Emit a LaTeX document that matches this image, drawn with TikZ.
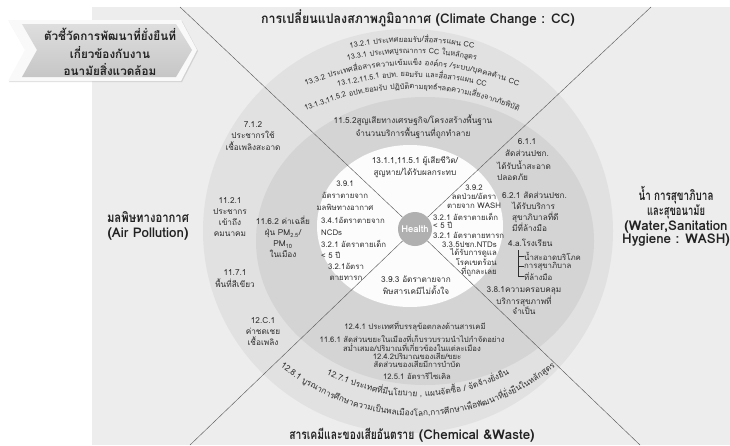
\documentclass[tikz,border=0pt]{standalone}
\usepackage{fontspec}
\newfontfamily\thaif[Script=Thai]{Loma}
\usetikzlibrary{shadows}
\definecolor{bgc}{HTML}{EDEDED}
\definecolor{outerc}{HTML}{E1E1E1}
\definecolor{midc}{HTML}{D4D4D4}
\definecolor{innerc}{HTML}{FCFCFC}
\definecolor{hc}{HTML}{B0B0B0}
\definecolor{txt}{HTML}{2E2E2E}
\definecolor{ttlc}{HTML}{222222}
\definecolor{linec}{HTML}{5E5E5E}
\definecolor{chevtop}{HTML}{DEDEDE}
\definecolor{chevbot}{HTML}{C6C6C6}
\definecolor{chevrim}{HTML}{F9F9F9}

\newcounter{arcn}
\newcommand\measbox[1]{\pgfinterruptpicture\global\setbox1\hbox{#1}\endpgfinterruptpicture}
\newcommand\fitsz[3]{\measbox{\thaif\fontsize{10}{12}\selectfont #3}\pgfmathsetmacro#1{10*#2/\the\wd1}}
% horizontal fit of a piece of node text to a width (px)
\newcommand\fitw[2]{\setbox3\hbox{#2}\pgfmathsetmacro\fws{#1/\the\wd3}\scalebox{\fws}[1]{\box3}}
% #1 cx, #2 cy (pixel), #3 baseline radius, #4 font, #5 dir (1 top, -1 bottom), #6 chunks, #7 arc length
\newcommand\arcline[7]{%
  \gdef\arctw{0}%
  \foreach \c in {#6}{%
    \measbox{#4\c}%
    \pgfmathsetmacro\arctmp{\arctw+\the\wd1}%
    \xdef\arctw{\arctmp}}%
  \pgfmathsetmacro\arcs{#7/\arctw}%
  \pgfmathsetmacro\arcst{90*(#5)+(#5)*(#7/2)/#3*57.29578}%
  \xdef\arccur{\arcst}%
  \foreach \c in {#6}{%
    \measbox{#4\c}%
    \pgfmathsetmacro\archalf{(\arcs*\the\wd1/2)/#3*57.29578}%
    \pgfmathsetmacro\arcmid{\arccur-(#5)*\archalf}%
    \pgfmathsetmacro\arcrot{\arcmid-90*(#5)}%
    \pgfmathsetmacro\arcx{#1+#3*cos(\arcmid)}%
    \pgfmathsetmacro\arcy{-#2+#3*sin(\arcmid)}%
    \stepcounter{arcn}%
    \node[arcchunk,rotate=\arcrot] (ac\arabic{arcn}) at (\arcx,\arcy) {\scalebox{\arcs}[1]{#4\c}};%
    \pgfmathsetmacro\arcnext{\arccur-(#5)*2*\archalf}%
    \xdef\arccur{\arcnext}}%
}

\tikzset{
  arcchunk/.style={inner sep=0pt,anchor=base,text=txt},
  ttl/.style={inner sep=0pt,text=ttlc,align=center,font=\thaif\bfseries\fontsize{\szT}{#1}\selectfont},
  ttl/.default=15,
  lbl/.style={inner sep=0pt,text=txt,align=center,font=\thaif\fontsize{\szL}{#1}\selectfont},
  lbl/.default=11.5,
  lbr/.style={inner sep=0pt,text=txt,align=center,font=\thaif\fontsize{\szR}{#1}\selectfont},
  lbr/.default=9,
  lbc/.style={inner sep=0pt,text=txt,align=center,font=\thaif\fontsize{\szC}{#1}\selectfont},
  lbc/.default=8.5,
  conn/.style={draw=linec,line width=0.45pt},
  brk/.style={draw=txt,line width=0.5pt},
}

\begin{document}
\begin{tikzpicture}[x=1pt,y=1pt]
\fitsz\szA{219}{13.1.3,11.5.2 อปท.ยอมรับ ปฏิบัติตามยุทธ์ฯลดความเสี่ยงจากภัยพิบัติ}
\fitsz\szB{298}{12.8.1 บูรณาการศึกษาความเป็นพลเมืองโลก,การศึกษาเพื่อพัฒนาที่ยั่งยืนในหลักสูตร}
\fitsz\szC{185}{11.6.1 สัดส่วนขยะในเมืองที่เก็บรวบรวมนำไปกำจัดอย่าง}
\fitsz\szL{55}{เชื้อเพลิงสะอาด}
\fitsz\szR{65}{3.2.1 อัตราตายเด็ก}
\fitsz\szT{81}{\bfseries (Air Pollution)}
\fitsz\szV{132}{\bfseries ตัวชี้วัดการพัฒนาที่ยั่งยืนที่}
\def\fA{\thaif\fontsize{\szA}{10}\selectfont}
\def\fB{\thaif\fontsize{\szB}{10}\selectfont}

\useasboundingbox (0,0) rectangle (730,-445);
\clip (0,0) rectangle (730,-445);
\fill[white] (0,0) rectangle (730,-445);
\fill[bgc] (92,-7) rectangle (730,-445);

% rings
\fill[outerc] (408,-231) ellipse [x radius=205pt, y radius=202pt];
\fill[midc] (425,-241) ellipse [x radius=169pt, y radius=144pt];
\fill[innerc] (410,-226) ellipse [x radius=93pt, y radius=81pt];

% centre and dividers
\node[circle,fill=hc,minimum size=34pt,inner sep=0pt,text=white,
      font=\thaif\bfseries\fontsize{9.5}{10}\selectfont] (health) at (415,-229) {Health};
\coordinate (cTL) at (180,-7);
\coordinate (cTR) at (651,-7);
\coordinate (cBL) at (190,-445);
\coordinate (cBR) at (640,-445);
\draw[conn] (cTL) -- (health);
\draw[conn] (cTR) -- (health);
\draw[conn] (cBL) -- (health);
\draw[conn] (cBR) -- (health);

% banner
\fill[chevrim, drop shadow={opacity=0.25,shadow xshift=1pt,shadow yshift=-1pt}]
  (8,-20) -- (181,-20) -- (197,-50) -- (181,-81) -- (8,-81) -- (25,-50) -- cycle;
\shade[top color=chevtop,bottom color=chevbot]
  (22,-24) -- (176,-24) -- (192,-50) -- (176,-77) -- (22,-77) -- (37,-50) -- cycle;
\node[inner sep=0pt,text=ttlc,align=center,font=\thaif\bfseries\fontsize{\szV}{17.5}\selectfont]
  (banner) at (110,-52) {ตัวชี้วัดการพัฒนาที่ยั่งยืนที่\\เกี่ยวข้องกับงาน\\อนามัยสิ่งแวดล้อม};

% sector titles
\node[ttl] (tTop) at (418,-18) {\fitw{170}{การเปลี่ยนแปลงสภาพภูมิอากาศ} (Climate Change : CC)};
\node[ttl] (tLeft) at (148,-225.5) {\fitw{82}{มลพิษทางอากาศ}\\(Air Pollution)};
\node[ttl=12.3] (tRight) at (676,-216.5) {\fitw{75}{น้ำ การสุขาภิบาล}\\\fitw{58}{และสุขอนามัย}\\(Water,Sanitation\\Hygiene : WASH)};
\node[ttl] (tBot) at (412,-435.5) {\fitw{125}{สารเคมีและของเสียอันตราย} (Chemical \&Waste)};

% top curved lines
\arcline{412}{350}{308}{\fA}{1}{{13.2.1~},{ประเทศ},{ยอมรับ/},{สื่อสาร},{แผน~CC}}{125}
\arcline{412}{350}{296.5}{\fA}{1}{{13.3.1~},{ประเทศ},{บูรณา},{การ~},{CC~},{ใน},{หลักสูตร}}{130}
\arcline{412}{350}{284.5}{\fA}{1}{{13.3.2~},{ประเทศ},{สื่อสาร},{ความ},{เข้มแข็ง~},{องค์กร~},{/ระบบ/},{บุคคล},{ด้าน~},{CC}}{218}
\arcline{412}{350}{273}{\fA}{1}{{13.1.2,11.5.1~},{อปท.~},{ยอมรับ~},{และ},{สื่อสาร},{แผน~CC}}{150}
\arcline{412}{350}{261}{\fA}{1}{{13.1.3,11.5.2~},{อปท.},{ยอมรับ~},{ปฏิบัติ},{ตาม},{ยุทธ์ฯ},{ลด},{ความ},{เสี่ยง},{จาก},{ภัย},{พิบัติ}}{219}

% bottom curved lines
\arcline{418}{200}{196.5}{\fB}{-1}{{12.7.1~},{ประเทศ},{ที่มี},{นโยบาย~,~},{แผน},{จัดซื้อ~/~},{จัดจ้าง},{ยั่งยืน}}{190}
\arcline{418}{200}{216}{\fB}{-1}{{12.8.1~},{บูรณา},{การ},{ศึกษา},{ความ},{เป็น},{พล},{เมือง},{โลก,},{การ},{ศึกษา},{เพื่อ},{พัฒนา},{ที่},{ยั่งยืน},{ใน},{หลัก},{สูตร}}{298}

% top sector, ring
\node[lbl=13] (n1152) at (413,-127) {11.5.2สูญเสียทางเศรษฐกิจ/โครงสร้างพื้นฐาน\\จำนวนบริการพื้นฐานที่ถูกทำลาย};
\node[lbl=12] (n1311) at (415,-167) {13.1.1,11.5.1 ผู้เสียชีวิต/\\สูญหาย/ได้รับผลกระทบ};

% left sector
\node[lbl] (n712) at (253,-136) {7.1.2\\ประชากรใช้\\เชื้อเพลิงสะอาด};
\node[lbl=11] (n1121) at (230,-217) {11.2.1\\ประชากร\\เข้าถึง\\คมนาคม};
\node[lbl=11] (n1162) at (283,-237) {11.6.2 ค่าเฉลี่ย\\ฝุ่น PM\textsubscript{2.5}/\\PM\textsubscript{10}\\ในเมือง};
\node[lbl=12] (n1171) at (235,-279) {11.7.1\\พื้นที่สีเขียว};
\node[lbl=11] (n12c1) at (263,-332) {12.C.1\\ค่าชดเชย\\เชื้อเพลิง};
\node[lbr=12] (n391) at (345,-196) {3.9.1\\อัตราตายจาก\\มลพิษทางอากาศ};
\node[lbr=12,anchor=west,align=left] (n341) at (321,-226) {3.4.1อัตราตายจาก\\NCDs};
\node[lbr=11,anchor=west,align=left] (n321a) at (321,-249) {3.2.1 อัตราตายเด็ก\\< 5 ปี};
\node[lbr=11] (n321b) at (346,-272) {3.2.1อัตรา\\ตายทารก};

% right sector, inner
\node[lbr] (n392) at (474,-197) {3.9.2\\ลดป่วย/อัตรา\\ตายจาก WASH};
\node[lbr=8.5,anchor=west,align=left] (n321c) at (433,-221) {3.2.1 อัตราตายเด็ก\\< 5 ปี};
\node[lbr,anchor=west] (n321d) at (433,-235) {3.2.1 อัตราตายทารก};
\node[lbr=8,anchor=east,align=right] (n335) at (497,-259) {3.3.5ปชก.NTDs\\ได้รับการดูแล\\โรคเขตร้อน\\ที่ถูกละเลย};
\node[lbl=12] (n393) at (416,-285) {3.9.3 อัตราตายจาก\\พิษสารเคมีไม่ตั้งใจ};

% right sector, ring
\node[lbl] (n611a) at (527,-142) {6.1.1};
\node[lbl] (n611b) at (527,-153) {สัดส่วนปชก.};
\node[lbl,anchor=west] (n611c) at (497,-165) {ได้รับน้ำสะอาด};
\node[lbl,anchor=west] (n611d) at (497,-177) {ปลอดภัย};
\node[lbl,anchor=west] (n621) at (502,-195) {6.2.1 สัดส่วนปชก.};
\node[lbl=11,anchor=west,align=left] (n621b) at (512,-217) {ได้รับบริการ\\สุขาภิบาลที่ดี\\มีที่ล้างมือ};
\node[lbl,anchor=west] (n4a) at (508,-243) {4.a.โรงเรียน};
\node[lbr,anchor=west] (t1) at (524,-256) {น้ำสะอาดบริโภค};
\node[lbr,anchor=west] (t2) at (524,-266) {การสุขาภิบาล};
\node[lbr,anchor=west] (t3) at (524,-276) {ที่ล้างมือ};
\coordinate (tb) at (518,-250);
\draw[brk] (tb) |- (t1.west);
\draw[brk] (tb) |- (t2.west);
\draw[brk] (tb) |- (t3.west);
\node[lbl=10.5] (n381) at (524,-301) {3.8.1ความครอบคลุม\\บริการสุขภาพที่\\จำเป็น};

% bottom sector, ring
\node[lbc] (n1241) at (415,-327) {12.4.1 ประเทศที่บรรลุข้อตกลงด้านสารเคมี};
\node[lbc] (n1161) at (412,-343) {11.6.1 สัดส่วนขยะในเมืองที่เก็บรวบรวมนำไปกำจัดอย่าง\\สม่ำเสมอ/ปริมาณที่เกี่ยวข้องในแต่ละเมือง};
\node[lbc] (n1242) at (417,-360.5) {12.4.2ปริมาณของเสีย/ขยะ\\สัดส่วนของเสียมีการบำบัด};
\node[lbc] (n1251) at (417,-376) {12.5.1 อัตรารีไซเคิล};
\end{tikzpicture}
\end{document}
